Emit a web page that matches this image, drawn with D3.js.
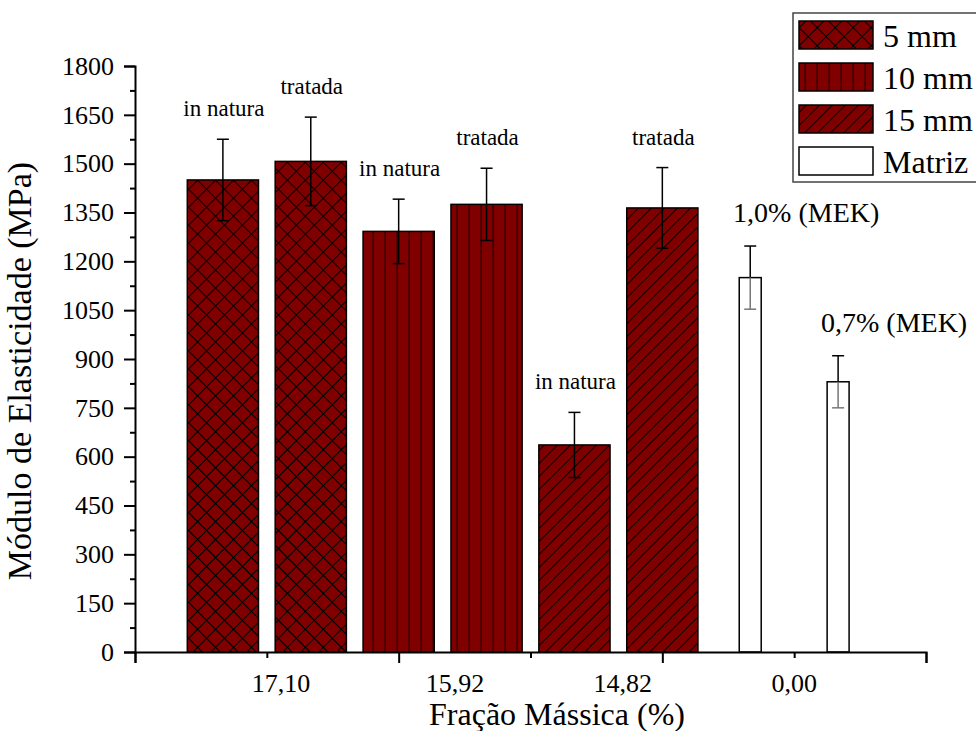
<!DOCTYPE html>
<html>
<head>
<meta charset="utf-8">
<script src="https://cdn.jsdelivr.net/npm/d3@7"></script>
<style>
  html, body { margin: 0; padding: 0; background: #fff; }
  svg text { font-family: "Liberation Serif", "Times New Roman", "DejaVu Serif", serif; }
</style>
</head>
<body>
<svg id="chart" width="976" height="731"></svg>
<script>
// Elastic modulus per fibre length / treatment, plus neat matrix samples
const barLabels = ["in natura", "tratada", "in natura", "tratada", "in natura", "tratada", "1,0% (MEK)", "0,7% (MEK)"];
const barSeries = ["5 mm", "5 mm", "10 mm", "10 mm", "15 mm", "15 mm", "Matriz", "Matriz"];
const barValues = [1450, 1507, 1292, 1375, 636, 1364, 1150, 830];
const barErrors = [125, 136, 99, 111, 100, 124, 97, 80];
const legendItems = ["5 mm", "10 mm", "15 mm", "Matriz"];
const xTickLabels = ["17,10", "15,92", "14,82", "0,00"];
const xTickAt = [1.66, 3.64, 5.55, 7.5];
const yMajorTicks = d3.range(0, 1801, 150);
const yMinorTicks = d3.range(75, 1800, 150);

const SERIF = "'Liberation Serif', 'Times New Roman', 'DejaVu Serif', serif";
const svg = d3.select("#chart");
const x = d3.scaleLinear().domain([0, 9]).range([135, 926]);
const y = d3.scaleLinear().domain([0, 1800]).range([652, 66]);

const RED = "#800000";

// hatch patterns: tiles rotated by 45deg, lines drawn as thin rects
const defs = svg.append("defs");
function pattern(id, size, angle, draw) {
  const p = defs.append("pattern").attr("id", id)
    .attr("patternUnits", "userSpaceOnUse")
    .attr("width", size).attr("height", size)
    .attr("patternTransform", `rotate(${angle})`);
  p.append("rect").attr("width", size).attr("height", size).attr("fill", RED);
  draw(p, size);
}
pattern("hatch-cross", 12.7, 45, (p, s) => {
  p.append("rect").attr("x", 0).attr("y", 0).attr("width", 1).attr("height", s).attr("fill", "#000");
  p.append("rect").attr("x", 0).attr("y", 0).attr("width", s).attr("height", 1).attr("fill", "#000");
});
pattern("hatch-vert", 12, 0, (p, s) => {
  p.append("rect").attr("x", 0.5).attr("y", 0).attr("width", 1.3).attr("height", s).attr("fill", "#2a0000");
});
pattern("hatch-diag", 9.2, 45, (p, s) => {
  p.append("rect").attr("x", 0).attr("y", 0).attr("width", 1).attr("height", s).attr("fill", "#000");
});
const fillFor = {
  "5 mm": "url(#hatch-cross)",
  "10 mm": "url(#hatch-vert)",
  "15 mm": "url(#hatch-diag)",
  "Matriz": "#fff"
};

// bars
const bars = barValues.map((v, i) => ({
  v, e: barErrors[i], s: barSeries[i], label: barLabels[i], pos: i + 1
}));
const widthFor = d => d.s === "Matriz" ? 0.25 : 0.81;

svg.append("g").selectAll("rect").data(bars).join("rect")
  .attr("x", d => x(d.pos - widthFor(d) / 2))
  .attr("width", d => x(widthFor(d)) - x(0))
  .attr("y", d => y(d.v))
  .attr("height", d => y(0) - y(d.v))
  .attr("fill", d => fillFor[d.s])
  .attr("stroke", "#000")
  .attr("stroke-width", 1.5);

// error bars
const eg = svg.append("g").attr("stroke-width", 1.5);
bars.forEach(d => {
  const cx = x(d.pos);
  eg.append("line").attr("x1", cx).attr("x2", cx)
    .attr("y1", y(d.v + d.e)).attr("y2", y(d.v)).attr("stroke", "#000");
  const inner = d.s === "Matriz" ? "#777" : "#000";
  eg.append("line").attr("x1", cx).attr("x2", cx)
    .attr("y1", y(d.v)).attr("y2", y(d.v - d.e)).attr("stroke", inner);
  eg.append("line").attr("x1", cx - 6).attr("x2", cx + 6)
    .attr("y1", y(d.v + d.e)).attr("y2", y(d.v + d.e)).attr("stroke", "#000");
  eg.append("line").attr("x1", cx - 6).attr("x2", cx + 6)
    .attr("y1", y(d.v - d.e)).attr("y2", y(d.v - d.e)).attr("stroke", inner);
});

// value annotations above the error bars
svg.append("g").selectAll("text").data(bars).join("text")
  .attr("x", d => x(d.pos) + (d.s === "Matriz" ? 56 : 1))
  .attr("y", d => y(d.v + d.e) - (d.s === "Matriz" ? 24 : 23))
  .attr("text-anchor", "middle")
  .attr("font-family", SERIF)
  .attr("font-size", d => d.s === "Matriz" ? 28 : 23)
  .attr("fill", "#000")
  .text(d => d.label);

// y axis
const yAxis = svg.append("g").attr("transform", `translate(${x(0)},0)`)
  .call(d3.axisLeft(y).tickValues(yMajorTicks).tickSize(11).tickPadding(10).tickFormat(d3.format("d")));
yAxis.attr("font-family", SERIF);
yAxis.select(".domain").attr("stroke-width", 2);
yAxis.selectAll(".tick line").attr("stroke-width", 2);
yAxis.selectAll(".tick text").attr("font-size", 26).attr("font-family", SERIF);
const yMinor = svg.append("g").attr("transform", `translate(${x(0)},0)`)
  .call(d3.axisLeft(y).tickValues(yMinorTicks).tickSize(5).tickFormat(""));
yMinor.select(".domain").remove();
yMinor.selectAll(".tick line").attr("stroke-width", 2);

// x axis
const xAxis = svg.append("g").attr("transform", `translate(0,${y(0)})`)
  .call(d3.axisBottom(x).tickValues([0, 3, 6, 9]).tickSize(11).tickFormat(""));
xAxis.select(".domain").attr("stroke-width", 2);
xAxis.selectAll(".tick line").attr("stroke-width", 2);
const xMinor = svg.append("g").attr("transform", `translate(0,${y(0)})`)
  .call(d3.axisBottom(x).tickValues([1.5, 4.5, 7.5]).tickSize(6).tickFormat(""));
xMinor.select(".domain").remove();
xMinor.selectAll(".tick line").attr("stroke-width", 2);

svg.append("g").selectAll("text").data(xTickLabels).join("text")
  .attr("x", (d, i) => x(xTickAt[i]))
  .attr("y", 692)
  .attr("text-anchor", "middle")
  .attr("font-family", SERIF)
  .attr("font-size", 26)
  .text(d => d);

// axis titles
svg.append("text")
  .attr("x", 557).attr("y", 725)
  .attr("text-anchor", "middle").attr("font-size", 32)
  .attr("font-family", SERIF)
  .text("Fração Mássica (%)");
svg.append("text")
  .attr("transform", "translate(31,371) rotate(-90)")
  .attr("text-anchor", "middle").attr("font-size", 34)
  .attr("font-family", SERIF)
  .text("Módulo de Elasticidade (MPa)");

// legend
const lg = svg.append("g");
lg.append("rect").attr("x", 793).attr("y", 13).attr("width", 220).attr("height", 169)
  .attr("fill", "#fff").attr("stroke", "#444").attr("stroke-width", 1.5);
legendItems.forEach((s, i) => {
  const top = 21 + i * 42;
  lg.append("rect").attr("x", 799).attr("y", top).attr("width", 74).attr("height", 28)
    .attr("fill", fillFor[s]).attr("stroke", "#000").attr("stroke-width", 1.5);
  lg.append("text").attr("x", 883).attr("y", top + 26).attr("font-size", 32)
    .attr("font-family", SERIF).text(s);
});
</script>
</body>
</html>
